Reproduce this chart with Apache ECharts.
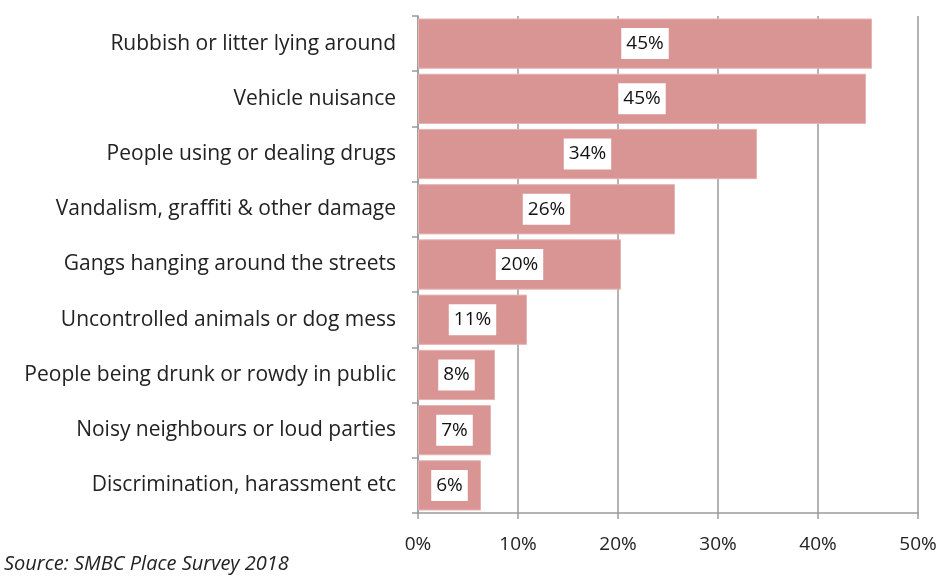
<!DOCTYPE html>
<html><head><meta charset="utf-8">
<script src="https://cdn.jsdelivr.net/npm/echarts@6/dist/echarts.min.js"></script>
<style>html,body{margin:0;padding:0;background:#fff}#c{width:941px;height:576px}</style>
</head><body><div id="c"></div>
<script>
const categories = [
  "Rubbish or litter lying around",
  "Vehicle nuisance",
  "People using or dealing drugs",
  "Vandalism, graffiti & other damage",
  "Gangs hanging around the streets",
  "Uncontrolled animals or dog mess",
  "People being drunk or rowdy in public",
  "Noisy neighbours or loud parties",
  "Discrimination, harassment etc"
];
const values = [45.4, 44.8, 33.9, 25.7, 20.3, 10.9, 7.7, 7.3, 6.3];
const sourceText = "Source: SMBC Place Survey 2018";

const FONT = 'Open Sans';
const chart = echarts.init(document.getElementById('c'));
chart.setOption({
  animation: false,
  textStyle: {fontFamily: FONT},
  grid: {left: 418, right: 23, top: 16, bottom: 63},
  xAxis: {
    type: 'value', min: 0, max: 50, interval: 10,
    axisLine: {show: true, lineStyle: {color: '#9a9a9a', width: 1.5}},
    axisTick: {show: true, length: 6, lineStyle: {color: '#9a9a9a', width: 1.5}},
    splitLine: {show: true, lineStyle: {color: '#9a9a9a', width: 1.5}},
    axisLabel: {formatter: '{value}%', color: '#222', fontSize: 19, margin: 22, fontFamily: FONT}
  },
  yAxis: {
    type: 'category', data: categories, inverse: true,
    axisLine: {show: true, lineStyle: {color: '#9a9a9a', width: 1.5}},
    axisTick: {show: true, length: 6, lineStyle: {color: '#9a9a9a', width: 1.5}},
    axisLabel: {color: '#222', fontSize: 21, margin: 22, fontFamily: FONT}
  },
  series: [{
    type: 'bar', data: values, barCategoryGap: '9%',
    itemStyle: {color: '#d99594', borderColor: '#e6b3b2', borderWidth: 1},
    label: {
      show: true, position: 'inside', color: '#111', fontSize: 19, fontFamily: FONT,
      backgroundColor: '#fff', padding: [7, 5, 5, 5],
      formatter: p => Math.round(p.value) + '%'
    }
  }],
  graphic: [{
    type: 'text', left: 4, top: 554,
    style: {text: sourceText, fontStyle: 'italic', fontSize: 20, fill: '#222', fontFamily: FONT}
  }]
});
</script></body></html>
